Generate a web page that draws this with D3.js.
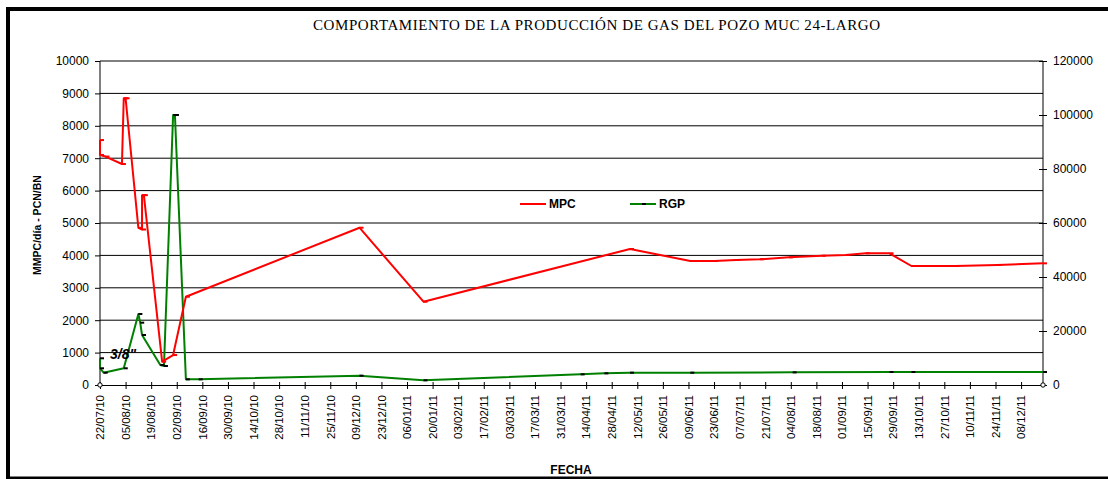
<!DOCTYPE html>
<html>
<head>
<meta charset="utf-8">
<script src="https://cdn.jsdelivr.net/npm/d3@7"></script>
<style>
    body { margin: 0; background: #fff; }
    svg { display: block; font-family: 'Liberation Sans', Arial, sans-serif; }
    .titulo { font-family: 'Liberation Serif', 'Times New Roman', serif; font-size: 15px; }
    .eje text { font-size: 12px; fill: #000; }
    .eje-x text { font-size: 11.5px; }
    .eje path, .eje line { stroke: #000; }
</style>
</head>
<body>
<div id="chart"></div>
<script>
//Datos
const FECHAS_MPC = ['22/07/10','22/07/10','25/07/10','03/08/10','04/08/10','05/08/10','12/08/10','14/08/10','14/08/10','15/08/10',
    '25/08/10','31/08/10','07/09/10','11/12/10','15/01/11','08/05/11','10/06/11','23/06/11','05/07/11','18/07/11',
    '03/08/11','21/08/11','03/09/11','14/09/11','27/09/11','09/10/11','02/11/11','25/11/11','20/12/11'];
const VALORES_MPC = [7560,7100,7050,6820,8850,8850,4850,4800,5860,5860,
    720,925,2725,4855,2571,4198,3827,3827,3858,3880,
    3940,3990,4012,4065,4065,3673,3673,3704,3755];

const FECHAS_RGP = ['22/07/10','22/07/10','24/07/10','04/08/10','12/08/10','13/08/10','14/08/10','24/08/10','26/08/10','31/08/10',
    '01/09/10','07/09/10','14/09/10','11/12/10','15/01/11','11/04/11','24/04/11','08/05/11','10/06/11','05/08/11',
    '27/09/11','09/10/11','20/12/11'];
const VALORES_RGP = [9890,6185,4556,6185,26300,23080,18520,7400,7040,100000,
    100000,2100,2100,3450,1740,3950,4320,4560,4560,4680,
    4815,4815,4815];

//Serie auxiliar (marcas en cero de los extremos)
const FECHAS_CERO = ['22/07/10','20/12/11'];
const VALORES_CERO = [0, 0];

const TICKS_IZQ = [0,1000,2000,3000,4000,5000,6000,7000,8000,9000,10000];
const TICKS_DER = [0,20000,40000,60000,80000,100000,120000];
const PRIMER_TICK_X = '22/07/10', ULTIMO_TICK_X = '08/12/11', PASO_DIAS = 14;
const LIMITES_X = ['22/07/10', '20/12/11'];

const SERIES = ['MPC', 'RGP'];
const COLOR_MPC = '#ff0000', COLOR_RGP = '#008000';

const TITULO = 'COMPORTAMIENTO DE LA PRODUCCIÓN DE GAS DEL POZO MUC 24-LARGO';
const TITULO_Y = 'MMPC/día - PCN/BN';
const TITULO_X = 'FECHA';
const NOTA = '3/8"';

let parseFecha = d3.timeParse('%d/%m/%y');
let formatFecha = d3.timeFormat('%d/%m/%y');
let formatNum = d3.format('d');

let dataMPC = FECHAS_MPC.map(function(f, i) { return { fecha: parseFecha(f), valor: VALORES_MPC[i] }; });
let dataRGP = FECHAS_RGP.map(function(f, i) { return { fecha: parseFecha(f), valor: VALORES_RGP[i] }; });
let dataCero = FECHAS_CERO.map(function(f, i) { return { fecha: parseFecha(f), valor: VALORES_CERO[i] }; });

let W = 1108, H = 479;
let margin = {top: 61, right: 65, bottom: 94, left: 100},
    width = W - margin.left - margin.right,
    height = H - margin.top - margin.bottom;

let svg = d3.select('#chart')
    .append('svg')
        .attr('width', W)
        .attr('height', H);

//Marco
svg.append('rect')
    .attr('x', 8).attr('y', 9)
    .attr('width', W + 10).attr('height', H - 9 - 0.5)
    .attr('fill', 'none')
    .attr('stroke', '#000')
    .attr('stroke-width', 4);

//Título
svg.append('text')
    .attr('class', 'titulo')
    .attr('x', 313).attr('y', 30)
    .attr('textLength', 567)
    .attr('lengthAdjust', 'spacing')
    .text(TITULO);

let g = svg.append('g')
    .attr('transform', 'translate(' + margin.left + ',' + margin.top + ')');

//Escalas
let x = d3.scaleTime()
    .domain(LIMITES_X.map(parseFecha))
    .range([0, width]);

let yIzq = d3.scaleLinear()
    .domain([0, 10000])
    .range([height, 0]);

let yDer = d3.scaleLinear()
    .domain([0, 120000])
    .range([height, 0]);

//Líneas de división
g.append('g')
    .selectAll('line')
    .data(TICKS_IZQ.filter(function(d) { return d > 0; }))
    .enter()
    .append('line')
    .attr('x1', 0).attr('x2', width)
    .attr('y1', function(d) { return yIzq(d); })
    .attr('y2', function(d) { return yIzq(d); })
    .attr('stroke', '#000')
    .attr('stroke-width', 1);

//Eje izquierdo
g.append('g')
    .attr('class', 'eje')
    .call(d3.axisLeft(yIzq).tickValues(TICKS_IZQ).tickFormat(formatNum).tickSize(5).tickPadding(6).tickSizeOuter(0))
    .call(function(g) { g.select('.domain').attr('d', 'M0,' + height + 'V0'); });

//Eje derecho
g.append('g')
    .attr('class', 'eje')
    .attr('transform', 'translate(' + width + ',0)')
    .call(d3.axisRight(yDer).tickValues(TICKS_DER).tickFormat(formatNum).tickSize(4).tickPadding(6).tickSizeOuter(0))
    .call(function(g) {
        g.selectAll('.tick line').attr('x1', -4);
        g.select('.domain').attr('d', 'M0,' + height + 'V0');
    });

//Eje X (cada 14 días)
let ticksX = d3.timeDay.range(parseFecha(PRIMER_TICK_X), d3.timeDay.offset(parseFecha(ULTIMO_TICK_X), 1), PASO_DIAS);

g.append('g')
    .attr('class', 'eje eje-x')
    .attr('transform', 'translate(0,' + height + ')')
    .call(d3.axisBottom(x).tickValues(ticksX).tickFormat(formatFecha).tickSize(4).tickSizeOuter(0))
    .call(function(g) {
        g.selectAll('.tick line').attr('y1', -3);
        g.selectAll('.tick text')
            .attr('transform', 'rotate(-90)')
            .attr('text-anchor', 'end')
            .attr('x', -10)
            .attr('y', 0)
            .attr('dy', '0.33em');
    });

//Líneas
let lineaMPC = d3.line()
    .x(function(d) { return x(d.fecha); })
    .y(function(d) { return yIzq(d.valor); });

let lineaRGP = d3.line()
    .x(function(d) { return x(d.fecha); })
    .y(function(d) { return yDer(d.valor); });

g.append('path')
    .datum(dataRGP)
    .attr('fill', 'none')
    .attr('stroke', COLOR_RGP)
    .attr('stroke-width', 2)
    .attr('stroke-linejoin', 'round')
    .attr('d', lineaRGP);

g.append('path')
    .datum(dataMPC)
    .attr('fill', 'none')
    .attr('stroke', COLOR_MPC)
    .attr('stroke-width', 2)
    .attr('stroke-linejoin', 'round')
    .attr('d', lineaMPC);

//Marcadores (guiones)
g.append('g')
    .selectAll('rect')
    .data(dataMPC)
    .enter()
    .append('rect')
    .attr('x', function(d) { return x(d.fecha); })
    .attr('y', function(d) { return yIzq(d.valor) - 1; })
    .attr('width', 4).attr('height', 2)
    .attr('fill', COLOR_MPC);

g.append('g')
    .selectAll('rect')
    .data(dataRGP)
    .enter()
    .append('rect')
    .attr('x', function(d) { return x(d.fecha); })
    .attr('y', function(d) { return yDer(d.valor) - 1; })
    .attr('width', 4).attr('height', 2)
    .attr('fill', '#000');

g.append('g')
    .selectAll('circle')
    .data(dataCero)
    .enter()
    .append('circle')
    .attr('cx', function(d) { return x(d.fecha); })
    .attr('cy', function(d) { return yIzq(d.valor); })
    .attr('r', 2.2)
    .attr('fill', '#fff')
    .attr('stroke', '#000')
    .attr('stroke-width', 1);

//Anotación
g.append('text')
    .attr('x', x(parseFecha(FECHAS_MPC[0])) + 10)
    .attr('y', yIzq(800))
    .attr('font-size', 14)
    .attr('font-weight', 'bold')
    .attr('font-style', 'italic')
    .text(NOTA);

//Leyenda
let leyenda = svg.append('g')
    .attr('transform', 'translate(520,204)');

let items = leyenda.selectAll('g')
    .data(SERIES)
    .enter()
    .append('g')
    .attr('transform', function(d, i) { return 'translate(' + (i * 110) + ',0)'; });

items.append('line')
    .attr('x1', 0).attr('x2', 26)
    .attr('stroke', function(d) { return d == 'MPC' ? COLOR_MPC : COLOR_RGP; })
    .attr('stroke-width', 2);

items.filter(function(d) { return d == 'RGP'; })
    .append('rect')
    .attr('x', 12).attr('y', -1)
    .attr('width', 4).attr('height', 2)
    .attr('fill', '#000');

items.append('text')
    .attr('x', 29).attr('y', 4)
    .attr('font-size', 12)
    .attr('font-weight', 'bold')
    .text(function(d) { return d; });

//Títulos de ejes
svg.append('text')
    .attr('transform', 'translate(41,225) rotate(-90)')
    .attr('text-anchor', 'middle')
    .attr('font-size', 10.5)
    .attr('font-weight', 'bold')
    .text(TITULO_Y);

svg.append('text')
    .attr('x', 571).attr('y', 474)
    .attr('text-anchor', 'middle')
    .attr('font-size', 12)
    .attr('font-weight', 'bold')
    .text(TITULO_X);
</script>
</body>
</html>
